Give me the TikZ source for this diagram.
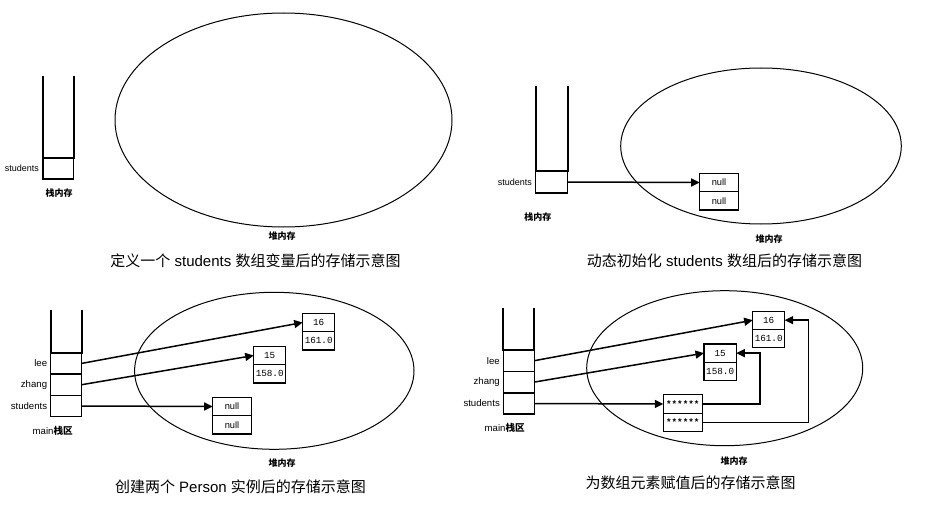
\documentclass[tikz,border=0pt]{standalone}
\usepackage{fontspec}
\setmainfont{Liberation Sans}
\setmonofont{Liberation Mono}
\newfontfamily\cjk{Noto Sans CJK SC}
\usetikzlibrary{arrows.meta,shapes.geometric}
\begin{document}
\begin{tikzpicture}[x=1pt,y=-1pt,
  wall/.style={line width=1.7pt, line cap=rect},
  cell/.style={draw, line width=1.5pt, minimum width=31pt, minimum height=21.3pt, inner sep=0pt, outer sep=0pt},
  heap/.style={draw, ellipse, line width=1pt, inner sep=0pt},
  fld/.style={draw, line width=1.1pt, minimum width=32pt, minimum height=18.3pt, inner sep=0pt, outer sep=0pt, font=\fontsize{9.3}{10}\selectfont\ttfamily},
  nullf/.style={fld, minimum width=38.6pt, font=\fontsize{9.3}{10}\selectfont},
  starf/.style={fld, minimum width=39pt, font=\fontsize{9.3}{10}\selectfont\ttfamily\bfseries},
  lbl/.style={inner sep=0pt, anchor=east, font=\fontsize{9}{10}\selectfont},
  lblb/.style={lbl, font=\fontsize{9.6}{10}\selectfont},
  cjklbl/.style={inner sep=0pt, font=\fontsize{9}{10}\selectfont\cjk\bfseries},
  mainlbl/.style={inner sep=0pt, font=\fontsize{9.6}{10}\selectfont},
  caption/.style={inner sep=0pt, font=\fontsize{15}{18}\selectfont},
  arr/.style={line width=1.5pt, -{Triangle[length=8.5pt,width=8pt]}}
]
\useasboundingbox (0,0) rectangle (948,508);

% ================= Panel 1 =================
\node[cell, minimum width=30.7pt, minimum height=21pt] (s1) at (58.35,168.5) {};
\coordinate (t1) at (58.35,77);
\draw[wall] (s1.north west) -- (s1.north west |- t1);
\draw[wall] (s1.north east) -- (s1.north east |- t1);
\node[lbl] (l1) at (39,168.5) {students};
\node[cjklbl] (k1) at (59,193) {栈内存};
\node[heap, minimum width=337pt, minimum height=214pt] (h1) at (283.5,120) {};
\node[cjklbl] (hl1) at (282,236) {堆内存};
\node[caption] (c1) at (255.5,261) {{\cjk 定义一个} students {\cjk 数组变量后的存储示意图}};

% ================= Panel 2 =================
\node[cell, minimum width=32pt, minimum height=22pt] (s2) at (551.7,182) {};
\coordinate (t2) at (551.7,87);
\draw[wall] (s2.north west) -- (s2.north west |- t2);
\draw[wall] (s2.north east) -- (s2.north east |- t2);
\node[lbl] (l2) at (532,182) {students};
\node[cjklbl] (k2) at (537.8,217) {栈内存};
\node[heap, minimum width=280.6pt, minimum height=156pt] (h2) at (761,146) {};
\node[nullf] (n2a) at (719,182.5) {null};
\node[nullf, anchor=north] (n2b) at (n2a.south) {null};
\draw[arr] (s2.east) -- (n2a.west);
\node[cjklbl] (hl2) at (769,239) {堆内存};
\node[caption] (c2) at (724.5,261) {{\cjk 动态初始化} students {\cjk 数组后的存储示意图}};

% ================= Panel 3 =================
\node[cell] (p3lee) at (66.2,363.4) {};
\node[cell, anchor=north] (p3zh) at (p3lee.south) {};
\node[cell, anchor=north] (p3st) at (p3zh.south) {};
\coordinate (t3) at (66.2,311);
\draw[wall] (p3lee.north west) -- (p3lee.north west |- t3);
\draw[wall] (p3lee.north east) -- (p3lee.north east |- t3);
\node[lblb] (l3a) at ([xshift=-3.4pt]p3lee.west) {lee};
\node[lblb] (l3b) at ([xshift=-3.4pt]p3zh.west) {zhang};
\node[lblb] (l3c) at ([xshift=-3.4pt]p3st.west) {students};
\node[mainlbl] (k3) at (52.7,431) {main{\cjk\bfseries 栈区}};
\node[heap, minimum width=279.4pt, minimum height=157pt] (h3) at (274.3,370.8) {};
\node[fld] (b3a) at (318.7,322.5) {16};
\node[fld, anchor=north] (b3b) at (b3a.south) {161.0};
\node[fld] (c3a) at (269.7,355.5) {15};
\node[fld, anchor=north] (c3b) at (c3a.south) {158.0};
\node[nullf] (n3a) at (232,406.5) {null};
\node[nullf, anchor=north] (n3b) at (n3a.south) {null};
\draw[arr] (p3lee.east) -- (b3a.west);
\draw[arr] (p3zh.east) -- (c3a.west);
\draw[arr] (p3st.east) -- (n3a.west);
\node[cjklbl] (hl3) at (282,463) {堆内存};
\node[caption] (c3) at (240.5,486.7) {{\cjk 创建两个} Person {\cjk 实例后的存储示意图}};

% ================= Panel 4 =================
\node[cell, minimum height=21.4pt] (p4lee) at (518.8,360.7) {};
\node[cell, minimum height=21.4pt, anchor=north] (p4zh) at (p4lee.south) {};
\node[cell, minimum height=21.4pt, anchor=north] (p4st) at (p4zh.south) {};
\coordinate (t4) at (518.8,308.7);
\draw[wall] (p4lee.north west) -- (p4lee.north west |- t4);
\draw[wall] (p4lee.north east) -- (p4lee.north east |- t4);
\node[lblb] (l4a) at ([xshift=-3.3pt]p4lee.west) {lee};
\node[lblb] (l4b) at ([xshift=-3.3pt]p4zh.west) {zhang};
\node[lblb] (l4c) at ([xshift=-3.3pt]p4st.west) {students};
\node[mainlbl] (k4) at (504.7,427.7) {main{\cjk\bfseries 栈区}};
\node[heap, minimum width=276pt, minimum height=155pt] (h4) at (724.7,368.2) {};
\node[fld] (d4a) at (768.7,320.2) {16};
\node[fld, anchor=north] (d4b) at (d4a.south) {161.0};
\node[fld, minimum width=32.3pt] (e4a) at (720.15,353.15) {15};
\node[fld, minimum width=32.3pt, anchor=north] (e4b) at (e4a.south) {158.0};
\node[starf] (a4a) at (682.8,404) {******};
\node[starf, anchor=north] (a4b) at (a4a.south) {******};
\draw[arr] (p4lee.east) -- (d4a.west);
\draw[arr] (p4zh.east) -- (e4a.west);
\draw[arr] (p4st.east) -- (a4a.west);
\draw[arr] (a4a.east) -| ([xshift=23.7pt]e4a.east) -- (e4a.east);
\draw[arr] (a4b.east) -| ([xshift=24pt]d4a.east) -- (d4a.east);
\node[cjklbl] (hl4) at (734,460.7) {堆内存};
\node[caption] (c4) at (690.7,482.7) {{\cjk 为数组元素赋值后的存储示意图}};
\end{tikzpicture}
\end{document}
